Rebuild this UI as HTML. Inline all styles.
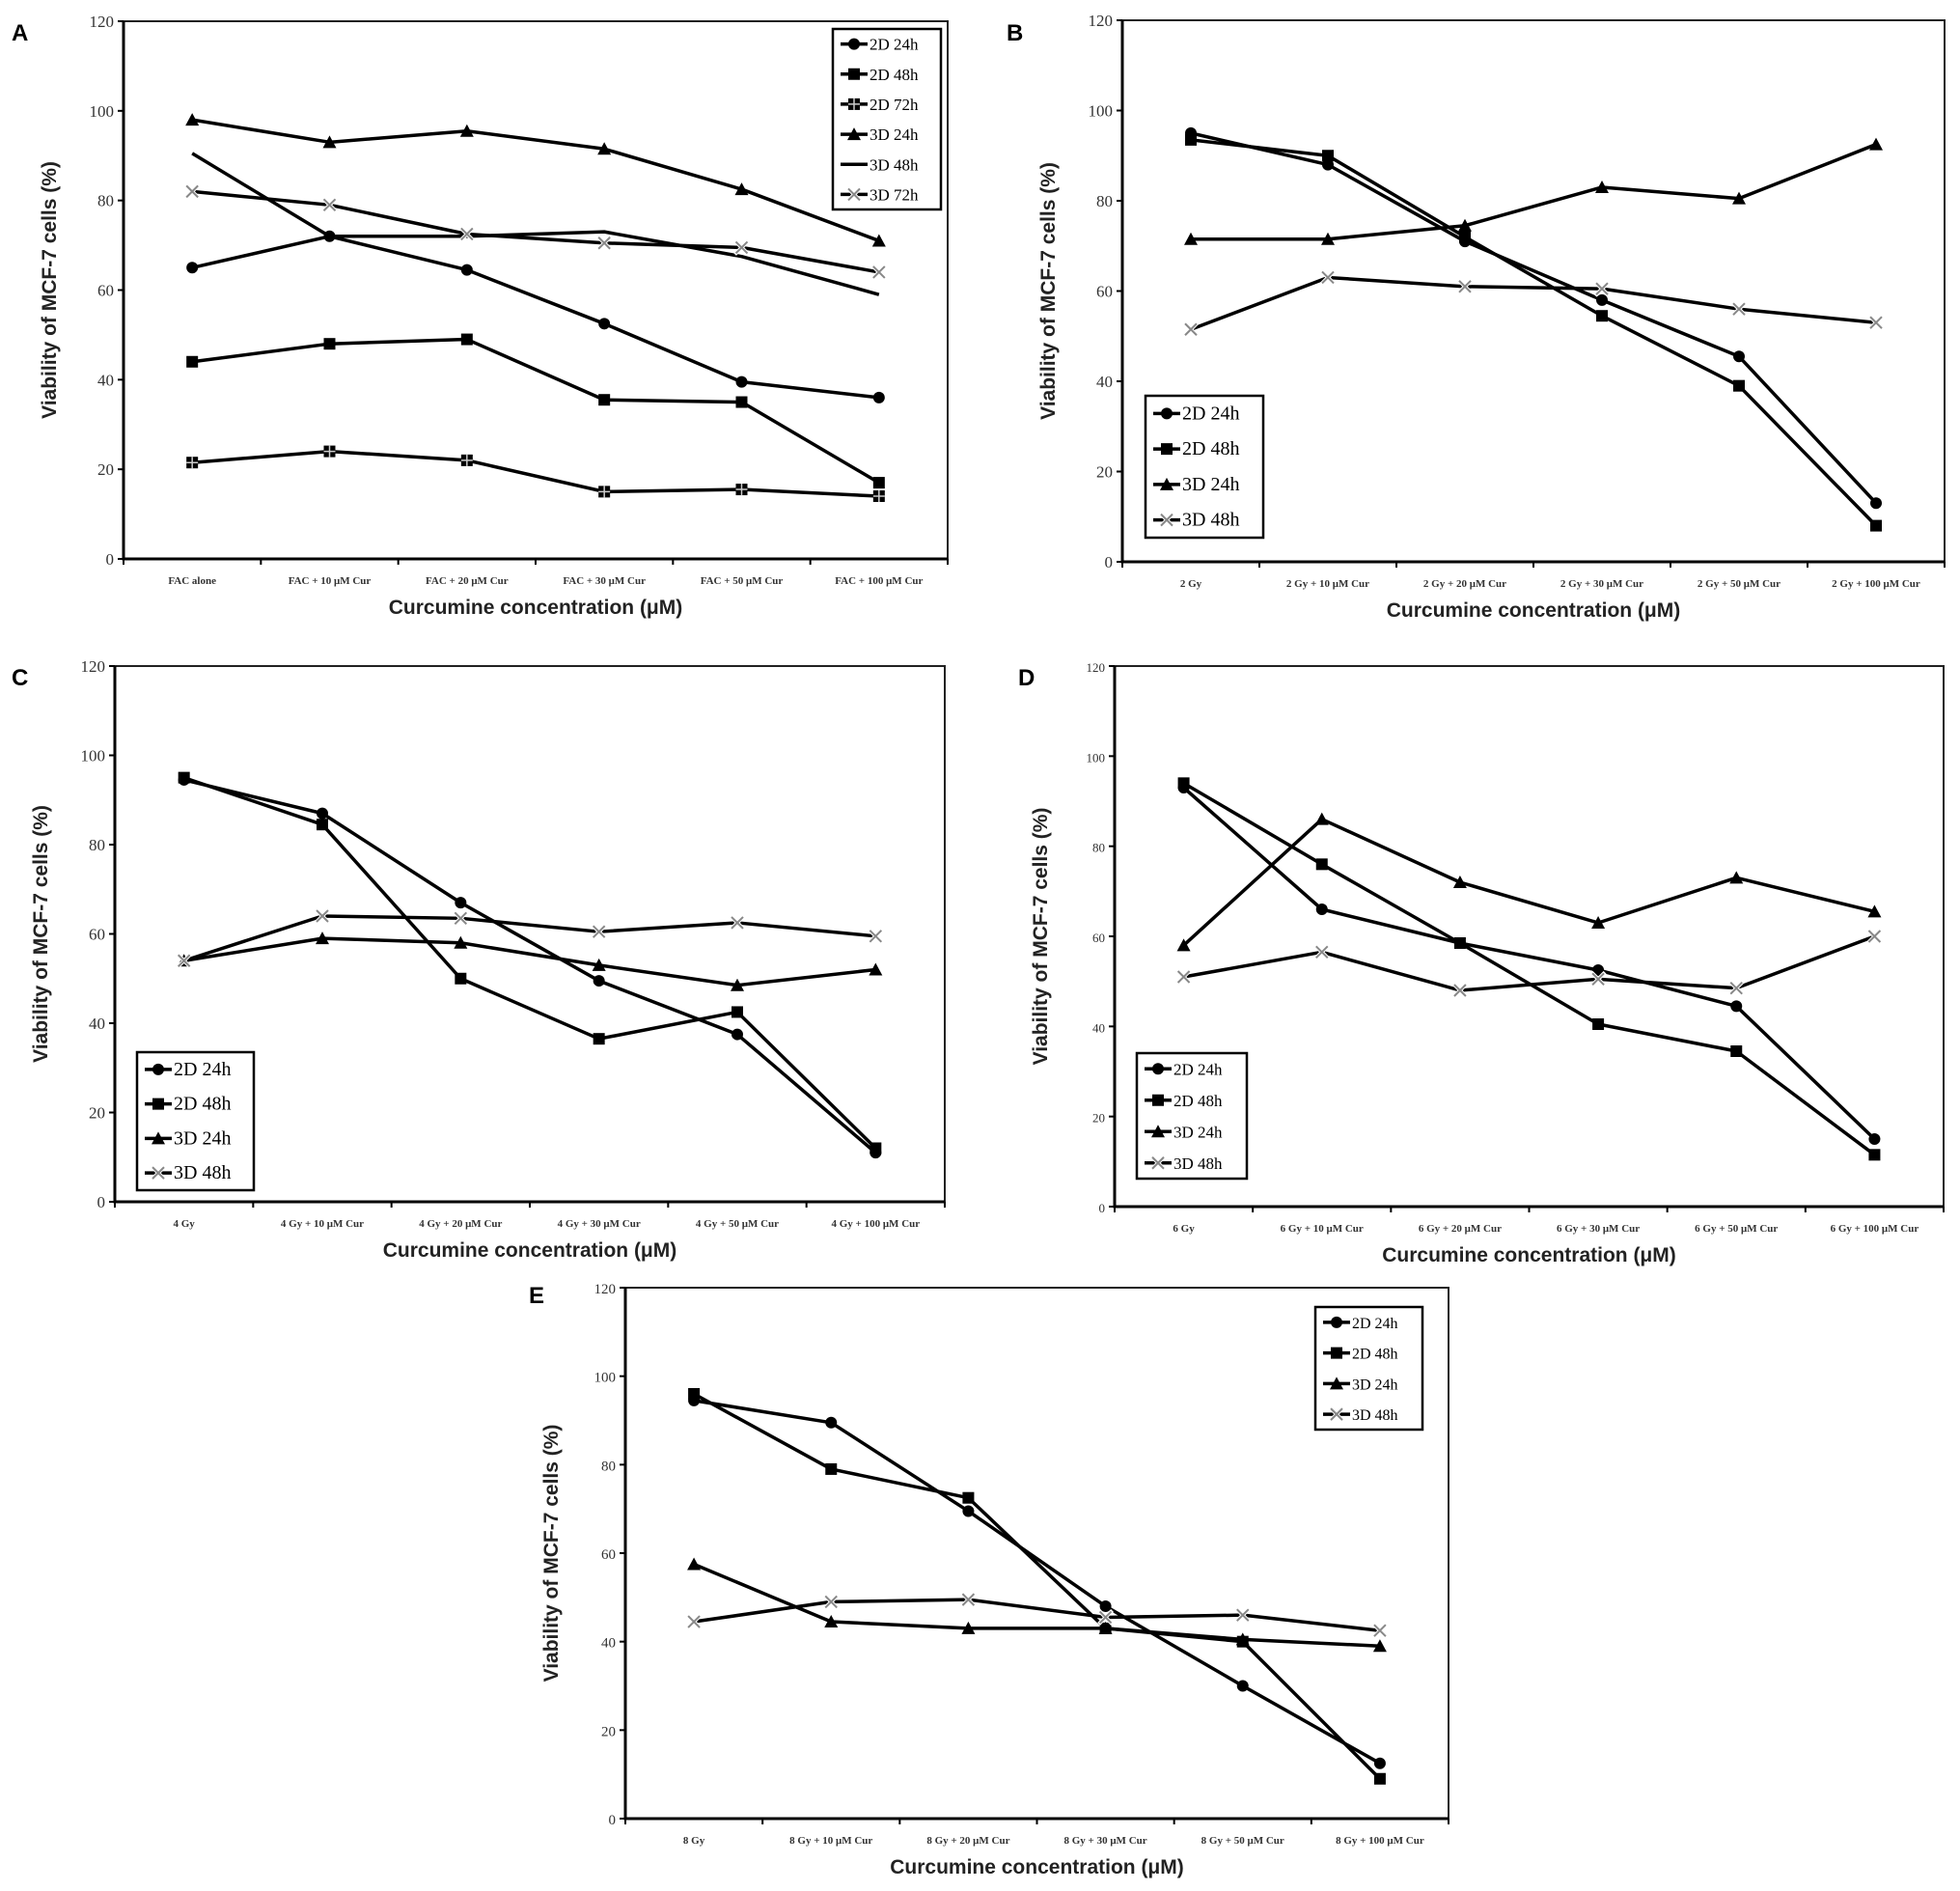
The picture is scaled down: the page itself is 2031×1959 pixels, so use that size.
<!DOCTYPE html>
<html><head><meta charset="utf-8">
<style>
body{margin:0;background:#fff;}
svg{display:block;}
</style></head>
<body>
<svg id="fig" width="2031" height="1959" viewBox="0 0 2031 1959" xmlns="http://www.w3.org/2000/svg"></svg>
<script>
const NS="http://www.w3.org/2000/svg";
const yTicks=[0,20,40,60,80,100,120];
const catsA=["FAC alone","FAC + 10 μM Cur","FAC + 20 μM Cur","FAC + 30 μM Cur","FAC + 50 μM Cur","FAC + 100 μM Cur"];
const catsB=["2 Gy","2 Gy + 10 μM Cur","2 Gy + 20 μM Cur","2 Gy + 30 μM Cur","2 Gy + 50 μM Cur","2 Gy + 100 μM Cur"];
const catsC=["4 Gy","4 Gy + 10 μM Cur","4 Gy + 20 μM Cur","4 Gy + 30 μM Cur","4 Gy + 50 μM Cur","4 Gy + 100 μM Cur"];
const catsD=["6 Gy","6 Gy + 10 μM Cur","6 Gy + 20 μM Cur","6 Gy + 30 μM Cur","6 Gy + 50 μM Cur","6 Gy + 100 μM Cur"];
const catsE=["8 Gy","8 Gy + 10 μM Cur","8 Gy + 20 μM Cur","8 Gy + 30 μM Cur","8 Gy + 50 μM Cur","8 Gy + 100 μM Cur"];
// Panel A
const a2D24=[65,72,64.5,52.5,39.5,36];
const a2D48=[44,48,49,35.5,35,17];
const a2D72=[21.5,24,22,15,15.5,14];
const a3D24=[98,93,95.5,91.5,82.5,71];
const a3D48=[90.5,72,72,73,67.5,59];
const a3D72=[82,79,72.5,70.5,69.5,64];
// Panel B
const b2D24=[95,88,71,58,45.5,13];
const b2D48=[93.5,90,72,54.5,39,8];
const b3D24=[71.5,71.5,74.5,83,80.5,92.5];
const b3D48=[51.5,63,61,60.5,56,53];
// Panel C
const c2D24=[94.5,87,67,49.5,37.5,11];
const c2D48=[95,84.5,50,36.5,42.5,12];
const c3D24=[54,59,58,53,48.5,52];
const c3D48=[54,64,63.5,60.5,62.5,59.5];
// Panel D
const d2D24=[93,66,58.5,52.5,44.5,15];
const d2D48=[94,76,58.5,40.5,34.5,11.5];
const d3D24=[58,86,72,63,73,65.5];
const d3D48=[51,56.5,48,50.5,48.5,60];
// Panel E
const e2D24=[94.5,89.5,69.5,48,30,12.5];
const e2D48=[96,79,72.5,43,40,9];
const e3D24=[57.5,44.5,43,43,40.5,39];
const e3D48=[44.5,49,49.5,45.5,46,42.5];

const svg=document.getElementById('fig');
function mk(tag,attrs,parent){const e=document.createElementNS(NS,tag);for(const k in attrs)e.setAttribute(k,attrs[k]);(parent||svg).appendChild(e);return e;}

function marker(g,type,x,y){
  let m;
  if(type==='circle'){m=mk('circle',{cx:x,cy:y,r:6,fill:'#000'},g);}
  else if(type==='square'){m=mk('rect',{x:x-6,y:y-6,width:12,height:12,fill:'#000'},g);}
  else if(type==='psquare'){m=mk('g',{},g);mk('rect',{x:x-6,y:y-6,width:12,height:12,fill:'#000'},m);mk('path',{d:`M${x-6} ${y}H${x+6}M${x} ${y-6}V${y+6}`,stroke:'#ccc','stroke-width':1.5},m);}
  else if(type==='tri'){m=mk('path',{d:`M${x} ${y-7}L${x+7} ${y+6}L${x-7} ${y+6}Z`,fill:'#000'},g);}
  else if(type==='xdia'){m=mk('g',{},g);mk('path',{d:`M${x-7} ${y-7}L${x+7} ${y+7}M${x+7} ${y-7}L${x-7} ${y+7}`,stroke:'#fff','stroke-width':4},m);mk('path',{d:`M${x-6} ${y-6}L${x+6} ${y+6}M${x+6} ${y-6}L${x-6} ${y+6}`,stroke:'#888','stroke-width':2},m);}
  else return;
  
  
}

function panel(p){
  const g=mk('g',{});
  
  
  const L=p.l,R=p.r,T=p.t,B=p.b;
  const ys=v=>B-(v/120)*(B-T);
  const n=p.cats.length,bw=(R-L)/n;
  const xs=i=>L+bw*(i+0.5);
  const lbl=mk('text',{x:p.lx,y:p.ly,'font-family':'Liberation Sans, sans-serif','font-weight':'bold','font-size':24},g);
  lbl.textContent=p.id;
  
  const box=mk('rect',{x:L,y:T,width:R-L,height:B-T,fill:'none',stroke:'#222','stroke-width':2},g);
  
  mk('path',{d:`M${L} ${T}V${B}H${R}`,stroke:'#000','stroke-width':3,fill:'none'},g);
  yTicks.forEach(v=>{
    mk('line',{x1:L-6,x2:L,y1:ys(v),y2:ys(v),stroke:'#000','stroke-width':2},g);
    const t=mk('text',{x:L-10,y:ys(v)+6,'text-anchor':'end','font-family':'Liberation Serif, serif','font-size':p.tf||17,fill:'#333'},g);
    t.textContent=v;
    
  });
  for(let i=0;i<=n;i++){mk('line',{x1:L+bw*i,x2:L+bw*i,y1:B,y2:B+6,stroke:'#000','stroke-width':2},g);}
  p.cats.forEach((c,i)=>{
    const t=mk('text',{x:xs(i),y:B+26,'text-anchor':'middle','font-family':'Liberation Serif, serif','font-weight':'bold','font-size':11,fill:'#333'},g);
    t.textContent=c;
    
  });
  const xt=mk('text',{x:(L+R)/2,y:B+57,'text-anchor':'middle','font-family':'Liberation Sans, sans-serif','font-weight':'bold','font-size':21,fill:'#222'},g);
  xt.textContent='Curcumine concentration (μM)';
  
  const yc=(T+B)/2,yx=L-70;
  const yt=mk('text',{x:yx,y:yc,'text-anchor':'middle','font-family':'Liberation Sans, sans-serif','font-weight':'bold','font-size':21,fill:'#222',transform:`rotate(-90 ${yx} ${yc})`},g);
  yt.textContent='Viability of MCF-7 cells (%)';
  
  p.series.forEach(s=>{
    const d=s.v.map((v,i)=>(i?'L':'M')+xs(i)+' '+ys(v)).join('');
    const ln=mk('path',{d:d,stroke:'#000','stroke-width':3.5,fill:'none','stroke-linejoin':'round'},g);
    
    
    s.v.forEach((v,i)=>marker(g,s.m,xs(i),ys(v)));
  });
  // legend
  const lg=p.leg;
  const lgG=mk('g',{},g);
  
  mk('rect',{x:lg.x,y:lg.y,width:lg.w,height:lg.h,fill:'#fff',stroke:'#000','stroke-width':2.5},lgG);
  const step=lg.h/p.series.length;
  p.series.forEach((s,i)=>{
    const cy=lg.y+step*(i+0.5);
    const e=mk('g',{},lgG);
    
    mk('line',{x1:lg.x+8,x2:lg.x+36,y1:cy,y2:cy,stroke:'#000','stroke-width':3.5},e);
    marker(e,s.m,lg.x+22,cy);
    const t=mk('text',{x:lg.x+38,y:cy+6,'font-family':'Liberation Serif, serif','font-size':lg.fs,fill:'#000'},e);
    t.textContent=s.name;
  });
}

panel({id:'A',l:128,r:982,t:22,b:579,lx:12,ly:42,cats:catsA,
  series:[{name:'2D 24h',v:a2D24,m:'circle'},{name:'2D 48h',v:a2D48,m:'square'},{name:'2D 72h',v:a2D72,m:'psquare'},{name:'3D 24h',v:a3D24,m:'tri'},{name:'3D 48h',v:a3D48,m:'none'},{name:'3D 72h',v:a3D72,m:'xdia'}],
  leg:{x:863,y:30,w:112,h:187,fs:17}});
panel({id:'B',l:1163,r:2015,t:21,b:582,lx:1043,ly:42,cats:catsB,
  series:[{name:'2D 24h',v:b2D24,m:'circle'},{name:'2D 48h',v:b2D48,m:'square'},{name:'3D 24h',v:b3D24,m:'tri'},{name:'3D 48h',v:b3D48,m:'xdia'}],
  leg:{x:1187,y:410,w:122,h:147,fs:20}});
panel({id:'C',l:119,r:979,t:690,b:1245,lx:12,ly:710,cats:catsC,
  series:[{name:'2D 24h',v:c2D24,m:'circle'},{name:'2D 48h',v:c2D48,m:'square'},{name:'3D 24h',v:c3D24,m:'tri'},{name:'3D 48h',v:c3D48,m:'xdia'}],
  leg:{x:142,y:1090,w:121,h:143,fs:20}});
panel({id:'D',l:1155,r:2014,t:690,b:1250,lx:1055,ly:710,cats:catsD,tf:13,
  series:[{name:'2D 24h',v:d2D24,m:'circle'},{name:'2D 48h',v:d2D48,m:'square'},{name:'3D 24h',v:d3D24,m:'tri'},{name:'3D 48h',v:d3D48,m:'xdia'}],
  leg:{x:1178,y:1091,w:114,h:130,fs:17}});
panel({id:'E',l:648,r:1501,t:1334,b:1884,lx:548,ly:1350,cats:catsE,tf:15,
  series:[{name:'2D 24h',v:e2D24,m:'circle'},{name:'2D 48h',v:e2D48,m:'square'},{name:'3D 24h',v:e3D24,m:'tri'},{name:'3D 48h',v:e3D48,m:'xdia'}],
  leg:{x:1363,y:1354,w:111,h:127,fs:16}});
</script>
</body></html>
